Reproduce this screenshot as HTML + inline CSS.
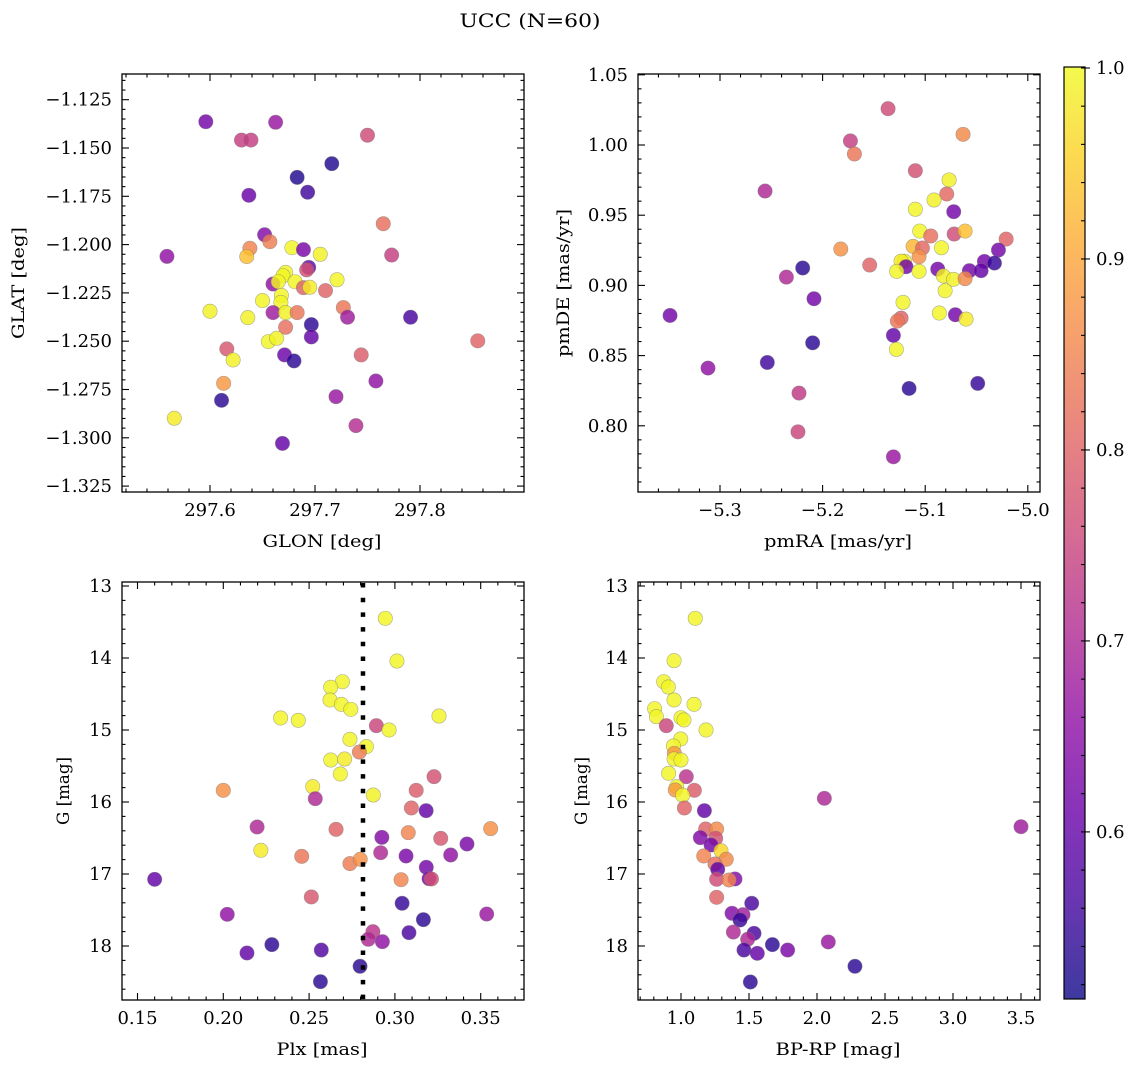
<!DOCTYPE html>
<html><head><meta charset="utf-8">
<style>
html,body{margin:0;padding:0;background:#fff;}
svg{display:block;font-family:"DejaVu Serif","Liberation Serif",serif;}
</style></head>
<body>
<svg id="fig" width="1136" height="1067" viewBox="0 0 1136 1067" xmlns="http://www.w3.org/2000/svg">
<defs>
<linearGradient id="plasmaGrad" x1="0" y1="1" x2="0" y2="0">
<stop offset="0" stop-color="#0d0887"/><stop offset="0.1" stop-color="#41049d"/><stop offset="0.2" stop-color="#6a00a8"/><stop offset="0.3" stop-color="#8f0da4"/><stop offset="0.4" stop-color="#b12a90"/><stop offset="0.5" stop-color="#cc4778"/><stop offset="0.6" stop-color="#e16462"/><stop offset="0.7" stop-color="#f2844b"/><stop offset="0.8" stop-color="#fca636"/><stop offset="0.9" stop-color="#fcce25"/><stop offset="1" stop-color="#f0f921"/>
</linearGradient>
</defs>
<text x="530" y="27" text-anchor="middle" font-size="19" textLength="141" lengthAdjust="spacingAndGlyphs">UCC (N=60)</text>
<g id="root"></g>
</svg>
<script>
// ---------- Data ----------
const glon = [297.596,297.6625,297.630,297.639,297.750,297.716,297.683,297.693,297.637,297.765,297.652,297.657,297.559,297.638,297.635,297.678,297.689,297.705,297.773,297.694,297.692,297.672,297.6695,297.660,297.665,297.681,297.689,297.695,297.721,297.710,297.668,297.650,297.6675,297.660,297.672,297.683,297.727,297.731,297.791,297.600,297.636,297.672,297.6965,297.6965,297.6556,297.6635,297.855,297.616,297.622,297.671,297.680,297.744,297.613,297.758,297.611,297.720,297.566,297.739,297.669];
const glat = [-1.1364,-1.1367,-1.1459,-1.1459,-1.1434,-1.1581,-1.1652,-1.1729,-1.1745,-1.1892,-1.1949,-1.1985,-1.2061,-1.2019,-1.2062,-1.2016,-1.2026,-1.2050,-1.2054,-1.2118,-1.2131,-1.2144,-1.2161,-1.2204,-1.2192,-1.2192,-1.2223,-1.2221,-1.2182,-1.2238,-1.2263,-1.2290,-1.2299,-1.2352,-1.2352,-1.2352,-1.2326,-1.2376,-1.2376,-1.2345,-1.2378,-1.2428,-1.2414,-1.2478,-1.2502,-1.2485,-1.2498,-1.2540,-1.2597,-1.2571,-1.2602,-1.2571,-1.2718,-1.2706,-1.2806,-1.2787,-1.2899,-1.2937,-1.3029];
const probPos = [0.62,0.67,0.74,0.74,0.76,0.53,0.53,0.56,0.61,0.82,0.64,0.84,0.66,0.85,0.93,0.995,0.63,0.99,0.74,0.60,0.77,0.995,0.995,0.66,0.995,0.995,0.80,0.985,0.995,0.80,0.995,0.995,0.995,0.68,0.99,0.83,0.83,0.68,0.57,0.99,0.99,0.82,0.54,0.60,0.995,0.99,0.80,0.78,0.99,0.61,0.54,0.79,0.88,0.66,0.54,0.67,0.985,0.71,0.60];

const pmra = [-5.1362,-5.1729,-5.169,-5.0631,-5.2561,-5.1096,-5.0767,-5.079,-5.0914,-5.1096,-5.0722,-5.1053,-5.0946,-5.0718,-5.0611,-5.0211,-5.1823,-5.1118,-5.1027,-5.0842,-5.106,-5.0286,-5.1541,-5.2194,-5.1203,-5.1235,-5.1187,-5.1278,-5.106,-5.0878,-5.0423,-5.0325,-5.0569,-5.0455,-5.0823,-5.0725,-5.0611,-5.2353,-5.0806,-5.2084,-5.3487,-5.1216,-5.0862,-5.0706,-5.0602,-5.1235,-5.1271,-5.131,-5.2097,-5.1281,-5.2539,-5.3117,-5.1157,-5.0488,-5.223,-5.224,-5.131];
const pmde = [1.0259,1.0029,0.9936,1.0076,0.9672,0.9817,0.9751,0.9651,0.9608,0.9542,0.9525,0.9387,0.9352,0.9366,0.9387,0.9330,0.9259,0.9278,0.9266,0.9268,0.9204,0.9252,0.9145,0.9124,0.9173,0.9173,0.9133,0.9100,0.9100,0.9116,0.9171,0.9159,0.9105,0.9105,0.9067,0.9043,0.9048,0.9059,0.8962,0.8905,0.8786,0.8879,0.8803,0.8791,0.8760,0.8767,0.8746,0.8644,0.8591,0.8544,0.8451,0.8411,0.8266,0.8302,0.8233,0.7957,0.7779];
const probPm = [0.76,0.74,0.83,0.86,0.70,0.77,0.99,0.81,0.99,0.995,0.62,0.995,0.82,0.76,0.93,0.80,0.87,0.92,0.81,0.995,0.87,0.62,0.80,0.54,0.99,0.985,0.62,0.995,0.995,0.62,0.62,0.55,0.62,0.60,0.99,0.99,0.86,0.70,0.995,0.62,0.62,0.995,0.995,0.62,0.985,0.80,0.83,0.60,0.54,0.995,0.56,0.66,0.54,0.55,0.73,0.75,0.67];

const plx = [0.2944,0.3012,0.2694,0.2626,0.2622,0.2688,0.2743,0.2334,0.2437,0.3257,0.2892,0.2966,0.2738,0.2834,0.2793,0.2626,0.2707,0.2682,0.3228,0.2000,0.2521,0.3124,0.2874,0.2536,0.3096,0.3182,0.2197,0.2657,0.3078,0.3558,0.2924,0.3267,0.3420,0.2219,0.2457,0.2917,0.3065,0.3325,0.2738,0.2798,0.3183,0.1600,0.3036,0.3199,0.3213,0.2513,0.3042,0.2023,0.3535,0.3166,0.3082,0.2872,0.2845,0.2927,0.2283,0.2138,0.2571,0.2797,0.2566];
const gPlx = [13.449,14.042,14.329,14.407,14.583,14.644,14.713,14.833,14.866,14.806,14.940,15.0,15.130,15.231,15.306,15.417,15.403,15.611,15.648,15.838,15.787,15.838,15.903,15.954,16.083,16.120,16.347,16.380,16.426,16.370,16.491,16.505,16.583,16.671,16.755,16.704,16.750,16.736,16.856,16.796,16.907,17.074,17.079,17.065,17.069,17.319,17.407,17.56,17.556,17.634,17.815,17.801,17.907,17.940,17.981,18.097,18.056,18.282,18.495];
const probPlx = [0.995,0.995,0.995,0.995,0.995,0.995,0.995,0.995,0.995,0.995,0.75,0.995,0.995,0.995,0.84,0.995,0.985,0.995,0.77,0.87,0.985,0.79,0.99,0.70,0.80,0.60,0.70,0.80,0.85,0.87,0.64,0.78,0.63,0.985,0.83,0.70,0.63,0.66,0.84,0.87,0.62,0.60,0.85,0.62,0.77,0.78,0.55,0.66,0.67,0.54,0.57,0.72,0.70,0.66,0.54,0.60,0.58,0.54,0.54];
const plxMean = [0.2814];

const bprp = [1.105,0.949,0.873,0.907,0.949,1.096,0.806,0.819,1.0,1.022,0.892,1.184,0.998,0.944,0.951,0.949,1.0,0.909,1.039,0.968,0.958,1.098,1.012,2.054,1.025,1.172,1.181,1.262,3.5,1.142,1.255,1.221,1.294,1.167,1.333,1.25,1.27,1.397,1.262,1.353,1.262,1.52,1.375,1.456,1.434,1.385,1.537,1.49,1.672,2.083,1.463,1.561,1.784,2.279,1.51];
const gCmd = [13.449,14.037,14.329,14.403,14.583,14.644,14.704,14.815,14.829,14.861,14.940,15.0,15.125,15.222,15.324,15.403,15.417,15.602,15.648,15.787,15.833,15.838,15.907,15.949,16.083,16.120,16.375,16.375,16.343,16.495,16.505,16.597,16.676,16.750,16.796,16.861,16.935,17.069,17.074,17.083,17.324,17.407,17.546,17.565,17.639,17.806,17.824,17.907,17.981,17.944,18.056,18.102,18.056,18.282,18.5];
const probCmd = [0.995,0.995,0.995,0.995,0.995,0.995,0.995,0.995,0.995,0.995,0.75,0.995,0.995,0.995,0.88,0.995,0.995,0.995,0.72,0.995,0.88,0.79,0.995,0.70,0.80,0.60,0.80,0.86,0.68,0.64,0.77,0.62,0.96,0.85,0.86,0.82,0.60,0.64,0.76,0.85,0.80,0.57,0.64,0.68,0.55,0.70,0.57,0.70,0.54,0.67,0.57,0.60,0.63,0.54,0.54];

const cbarTicks = [0.6,0.7,0.8,0.9,1.0];
const vmin = 0.5125, vmax = 1.0;

// ---------- Helpers ----------
const NS = "http://www.w3.org/2000/svg";
const root = document.getElementById('root');
function mk(tag, attrs, parent){
  const e = document.createElementNS(NS, tag);
  for (const k in attrs) e.setAttribute(k, attrs[k]);
  (parent||root).appendChild(e);
  return e;
}
const stops = ["#0d0887","#41049d","#6a00a8","#8f0da4","#b12a90","#cc4778","#e16462","#f2844b","#fca636","#fcce25","#f0f921"];
function hex(h){return [parseInt(h.substr(1,2),16),parseInt(h.substr(3,2),16),parseInt(h.substr(5,2),16)];}
function plasma(v){
  let t = (v - vmin)/(vmax - vmin); t = Math.max(0, Math.min(1, t));
  const f = t*10, i = Math.min(9, Math.floor(f)), u = f - i;
  const a = hex(stops[i]), b = hex(stops[i+1]);
  return 'rgb(' + a.map((c,k)=>Math.round(c+(b[k]-c)*u)).join(',') + ')';
}
function linScale(v0, p0, v1, p1){ return v => p0 + (v - v0)*(p1 - p0)/(v1 - v0); }
function fmt(v, d){ const s = Math.abs(v).toFixed(d); return (v < -1e-9 ? '\u2212' : '') + s; }

function drawPanel(cfg){
  const g = mk('g', {});
  
  
  const {L,R,T,B} = cfg;
  const tg = mk('g', {stroke:'#000','stroke-width':1.1}, g);
  
  
  const xs = cfg.xs, ys = cfg.ys;
  const eps = 1e-9;
  for (let k = Math.ceil(cfg.xlo/cfg.xminor - eps); k*cfg.xminor <= cfg.xhi + eps; k++){
    const px = xs(k*cfg.xminor); if (px < L || px > R) continue;
    const isMajor = Math.abs((k*cfg.xminor)/cfg.xmajor - Math.round((k*cfg.xminor)/cfg.xmajor)) < 1e-6;
    const len = isMajor ? 7 : 3.5;
    mk('line', {x1:px, y1:B, x2:px, y2:B-len}, tg);
    mk('line', {x1:px, y1:T, x2:px, y2:T+len}, tg);
    if (isMajor){
      const t = mk('text', {x:px, y:B+24, 'text-anchor':'middle', 'font-size':18, stroke:'none', fill:'#000'}, g);
      
      
      t.textContent = fmt(k*cfg.xminor, cfg.xdec);
    }
  }
  for (let k = Math.ceil(cfg.ylo/cfg.yminor - eps); k*cfg.yminor <= cfg.yhi + eps; k++){
    const py = ys(k*cfg.yminor); if (py < T || py > B) continue;
    const isMajor = Math.abs((k*cfg.yminor)/cfg.ymajor - Math.round((k*cfg.yminor)/cfg.ymajor)) < 1e-6;
    const len = isMajor ? 7 : 3.5;
    mk('line', {x1:L, y1:py, x2:L+len, y2:py}, tg);
    mk('line', {x1:R, y1:py, x2:R-len, y2:py}, tg);
    if (isMajor){
      const t = mk('text', {x:L-10, y:py+6, 'text-anchor':'end', 'font-size':18, stroke:'none', fill:'#000'}, g);
      
      
      t.textContent = fmt(k*cfg.yminor, cfg.ydec);
    }
  }
  const pg = mk('g', {}, g);
  
  
  cfg.x.forEach((xv, i) => {
    const c = mk('circle', {cx:xs(xv), cy:ys(cfg.y[i]), r:7.2, fill:plasma(cfg.p[i]), 'fill-opacity':0.82, stroke:'#7a7a7a', 'stroke-opacity':0.6, 'stroke-width':0.6}, pg);
    
    
  });
  if (cfg.extra) cfg.extra(g);
  const fr = mk('rect', {x:L, y:T, width:R-L, height:B-T, fill:'none', stroke:'#000', 'stroke-width':1.3}, g);
  
  
  const xl = mk('text', {x:cfg.xlabX, y:B+55, 'text-anchor':'middle', 'font-size':17, textLength:cfg.xlabW, lengthAdjust:'spacingAndGlyphs'}, g);
  
  
  xl.textContent = cfg.xlabel;
  const yx = cfg.ylabX, yy = (T+B)/2;
  const yl = mk('text', {x:yx, y:yy, 'text-anchor':'middle', 'font-size':17, transform:`rotate(-90 ${yx} ${yy})`, textLength:cfg.ylabW, lengthAdjust:'spacingAndGlyphs'}, g);
  
  
  yl.textContent = cfg.ylabel;
}

drawPanel({name:'position-panel', L:122, R:524, T:74, B:492,
  xs: linScale(297.6, 210, 297.7, 315), ys: linScale(-1.15, 148, -1.175, 196.3),
  xlo:297.5, xhi:297.9, xminor:0.02, xmajor:0.1, xdec:1,
  ylo:-1.34, yhi:-1.10, yminor:0.005, ymajor:0.025, ydec:3,
  x:glon, y:glat, p:probPos, xlabel:'GLON [deg]', xlabW:119, xlabX:322, ylabel:'GLAT [deg]', ylabW:112, ylabX:24});

drawPanel({name:'proper-motion-panel', L:638, R:1040, T:74, B:492,
  xs: linScale(-5.3, 720, -5.2, 822.6), ys: linScale(1.0, 145, 0.95, 215.2),
  xlo:-5.4, xhi:-4.98, xminor:0.02, xmajor:0.1, xdec:1,
  ylo:0.74, yhi:1.06, yminor:0.01, ymajor:0.05, ydec:2,
  x:pmra, y:pmde, p:probPm, xlabel:'pmRA [mas/yr]', xlabW:148, xlabX:838, ylabel:'pmDE [mas/yr]', ylabW:148, ylabX:569});

drawPanel({name:'parallax-panel', L:122, R:524, T:582, B:1000,
  xs: linScale(0.15, 137.5, 0.20, 223.3), ys: linScale(13, 586, 14, 658),
  xlo:0.14, xhi:0.38, xminor:0.01, xmajor:0.05, xdec:2,
  ylo:12.8, yhi:18.8, yminor:0.2, ymajor:1, ydec:0,
  x:plx, y:gPlx, p:probPlx, xlabel:'Plx [mas]', xlabW:91, xlabX:322, ylabel:'G [mag]', ylabW:68, ylabX:69,
  extra: function(g){
    const xs = linScale(0.15, 137.5, 0.20, 223.3);
    const ln = mk('line', {x1:xs(plxMean[0]), y1:583, x2:xs(plxMean[0]), y2:1000, stroke:'#000', 'stroke-width':4.5, 'stroke-dasharray':'4.5 10.2'}, g);
    
    
  }});

drawPanel({name:'cmd-panel', L:638, R:1040, T:582, B:1000,
  xs: linScale(1.0, 681, 1.5, 749), ys: linScale(13, 586, 14, 658),
  xlo:0.6, xhi:3.7, xminor:0.1, xmajor:0.5, xdec:1,
  ylo:12.8, yhi:18.8, yminor:0.2, ymajor:1, ydec:0,
  x:bprp, y:gCmd, p:probCmd, xlabel:'BP-RP [mag]', xlabW:125, xlabX:838, ylabel:'G [mag]', ylabW:68, ylabX:587});

(function(){
  const L=1064, R=1085, T=67, B=999;
  const cs = linScale(vmin, B, vmax, T+1);
  const g = mk('g', {});
  
  
  const r = mk('rect', {x:L, y:T, width:R-L, height:B-T, fill:'url(#plasmaGrad)', 'fill-opacity':0.8}, g);
  
  
  for (let k = 26; k <= 50; k++){
    const v = k*0.02; const py = cs(v); if (py < T || py > B) continue;
    const t = mk('line', {x1:R, y1:py, x2:R-4, y2:py, stroke:'#000', 'stroke-width':1.1}, g);
    
    
  }
  cbarTicks.forEach(v => {
    const py = cs(v);
    const tk = mk('line', {x1:R, y1:py, x2:R+5, y2:py, stroke:'#000', 'stroke-width':1.1}, g);
    
    
    const t = mk('text', {x:R+11, y:py+6, 'font-size':18}, g);
    
    
    t.textContent = v.toFixed(1);
  });
  const fr = mk('rect', {x:L, y:T, width:R-L, height:B-T, fill:'none', stroke:'#000', 'stroke-width':1.2}, g);
  
  
})();
</script>
</body></html>
